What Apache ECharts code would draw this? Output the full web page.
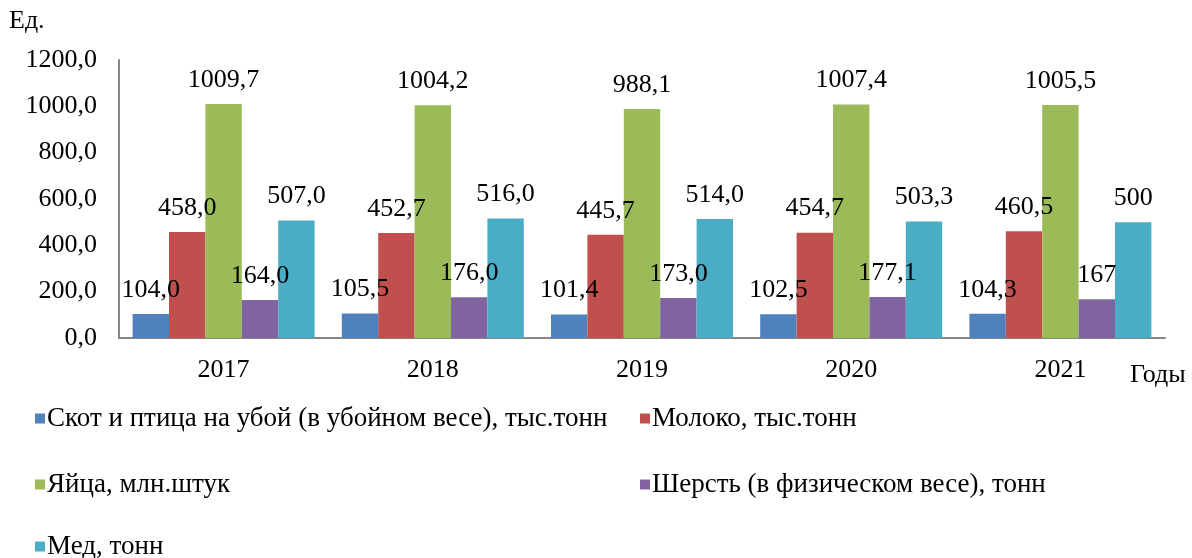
<!DOCTYPE html>
<html>
<head>
<meta charset="utf-8">
<script src="https://cdn.jsdelivr.net/npm/echarts@6/dist/echarts.min.js"></script>
<style>
  html, body { margin: 0; padding: 0; background: #fff; }
  #chart { width: 1192px; height: 558px; }
</style>
</head>
<body>
<div id="chart"></div>
<script>
// данные по годам
const years = ['2017', '2018', '2019', '2020', '2021']
const seriesNames = [
  'Скот и птица на убой (в убойном весе), тыс.тонн',
  'Молоко, тыс.тонн',
  'Яйца, млн.штук',
  'Шерсть (в физическом весе), тонн',
  'Мед, тонн'
]
const livestock = [104.0, 105.5, 101.4, 102.5, 104.3]
const milk = [458.0, 452.7, 445.7, 454.7, 460.5]
const eggs = [1009.7, 1004.2, 988.1, 1007.4, 1005.5]
const wool = [164.0, 176.0, 173.0, 177.1, 167]
const honey = [507.0, 516.0, 514.0, 503.3, 500]
// подписи как в исходнике
const livestockLabels = ['104,0', '105,5', '101,4', '102,5', '104,3']
const milkLabels = ['458,0', '452,7', '445,7', '454,7', '460,5']
const eggsLabels = ['1009,7', '1004,2', '988,1', '1007,4', '1005,5']
const woolLabels = ['164,0', '176,0', '173,0', '177,1', '167']
const honeyLabels = ['507,0', '516,0', '514,0', '503,3', '500']

const colors = ['#4F81BD', '#C0504D', '#9BBB59', '#8064A2', '#4BACC6']
const font = '"Liberation Serif", "Times New Roman", serif'

const values = [livestock, milk, eggs, wool, honey]
const labels = [livestockLabels, milkLabels, eggsLabels, woolLabels, honeyLabels]

const series = seriesNames.map((name, i) => ({
  name: name,
  type: 'bar',
  barGap: 0,
  barCategoryGap: '13%',
  itemStyle: { color: colors[i] },
  label: {
    show: true,
    position: 'top',
    distance: 11,
    color: '#000',
    fontFamily: font,
    fontSize: 26,
    formatter: p => labels[i][p.dataIndex]
  },
  data: values[i]
}))

// легенда: два столбца, три строки
const legendPos = [
  { left: 30, top: 400 },
  { left: 635, top: 400 },
  { left: 30, top: 466 },
  { left: 635, top: 466 },
  { left: 30, top: 528 }
]
const legends = seriesNames.map((name, i) => ({
  data: [name],
  left: legendPos[i].left,
  top: legendPos[i].top,
  itemWidth: 10,
  itemHeight: 10,
  itemGap: 0,
  icon: 'rect',
  textStyle: { fontFamily: font, fontSize: 27, color: '#000', padding: [0, 0, 0, -3] }
}))

const chart = echarts.init(document.getElementById('chart'))
chart.setOption({
  animation: false,
  textStyle: { fontFamily: font },
  grid: { left: 119, right: 27, top: 60, bottom: 220 },
  legend: legends,
  xAxis: {
    type: 'category',
    data: years,
    axisLine: { lineStyle: { color: '#868686', width: 2 } },
    axisTick: { show: false },
    axisLabel: { color: '#000', fontFamily: font, fontSize: 26, margin: 19 }
  },
  yAxis: {
    type: 'value',
    min: 0,
    max: 1200,
    interval: 200,
    splitLine: { show: false },
    axisLine: { show: true, lineStyle: { color: '#868686', width: 2 } },
    axisTick: { show: false },
    axisLabel: {
      color: '#000',
      fontFamily: font,
      fontSize: 26,
      margin: 22,
      formatter: v => v.toFixed(1).replace('.', ',')
    }
  },
  graphic: [
    { type: 'text', left: 9, top: 8, style: { text: 'Ед.', font: '26px ' + font, fill: '#000' } },
    { type: 'text', left: 1130, top: 362, style: { text: 'Годы', font: '26px ' + font, fill: '#000' } }
  ],
  series: series
})
</script>
</body>
</html>
